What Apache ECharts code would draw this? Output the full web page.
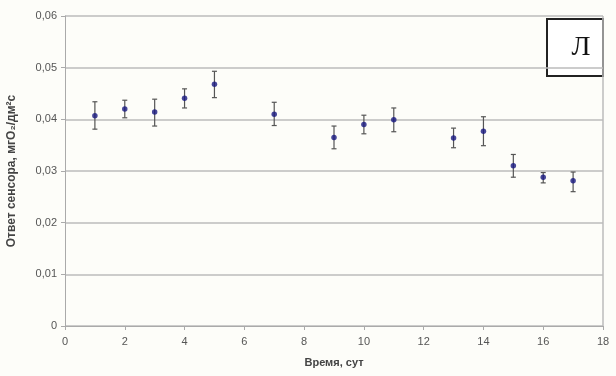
<!DOCTYPE html>
<html>
<head>
<meta charset="utf-8">
<script src="https://cdn.jsdelivr.net/npm/echarts@6/dist/echarts.min.js"></script>
<style>
  html, body { margin: 0; padding: 0; background: #fdfdf9; }
  #chart { width: 616px; height: 376px; }
</style>
</head>
<body>
<div id="chart"></div>
<script>
// время, сут
const days = [1, 2, 3, 4, 5, 7, 9, 10, 11, 13, 14, 15, 16, 17]
// ответ сенсора
const response = [0.0407, 0.0420, 0.0414, 0.0441, 0.0468, 0.0410, 0.0365, 0.0390, 0.0399, 0.0364, 0.0377, 0.0310, 0.0288, 0.0281]
const errLow = [0.0381, 0.0403, 0.0387, 0.0422, 0.0442, 0.0388, 0.0343, 0.0372, 0.0376, 0.0345, 0.0349, 0.0288, 0.0277, 0.0260]
const errHigh = [0.0434, 0.0437, 0.0439, 0.0459, 0.0493, 0.0433, 0.0387, 0.0408, 0.0422, 0.0383, 0.0405, 0.0332, 0.0297, 0.0298]

const fmt = v => String(+v.toFixed(2)).replace('.', ',')

const chart = echarts.init(document.getElementById('chart'))

chart.setOption({
    backgroundColor: '#fdfdf9',
    animation: false,
    grid: { left: 65, right: 13, top: 16, bottom: 50, containLabel: false, outerBoundsMode: 'none' },
    xAxis: {
        type: 'value',
        min: 0,
        max: 18,
        interval: 2,
        name: 'Время, сут',
        nameLocation: 'middle',
        nameGap: 31,
        nameTextStyle: { fontFamily: 'Liberation Sans', fontSize: 11, fontWeight: 'bold', color: '#444' },
        axisLine: { show: true, lineStyle: { color: '#aaa' } },
        axisTick: { show: true, length: 4, lineStyle: { color: '#aaa' } },
        axisLabel: { fontFamily: 'Liberation Sans', fontSize: 11, color: '#555', margin: 10 },
        splitLine: { show: false }
    },
    yAxis: {
        type: 'value',
        min: 0,
        max: 0.06,
        interval: 0.01,
        name: 'Ответ сенсора, мгО₂/дм²с',
        nameLocation: 'middle',
        nameGap: 47,
        nameTextStyle: { fontFamily: 'Liberation Sans', fontSize: 12, fontWeight: 'bold', color: '#444' },
        axisLine: { show: true, lineStyle: { color: '#aaa' } },
        axisTick: { show: true, length: 4, lineStyle: { color: '#aaa' } },
        axisLabel: { fontFamily: 'Liberation Sans', fontSize: 11, color: '#555', margin: 8, formatter: fmt },
        splitLine: { show: true, lineStyle: { color: '#bbb', width: 1.5 } }
    },
    graphic: [
        // правая граница области графика
        { type: 'line', shape: { x1: 603, y1: 16, x2: 603, y2: 326 }, style: { stroke: '#bbb', lineWidth: 1.5 }, z: 1 },
        // метка "Л"
        {
            type: 'group',
            left: 546,
            top: 18,
            z: 100,
            children: [
                { type: 'rect', shape: { x: 0, y: 0, width: 56, height: 57 }, style: { fill: '#fff', stroke: '#222', lineWidth: 2 } },
                { type: 'text', x: 34, y: 29, style: { text: 'Л', fontFamily: 'Liberation Serif', fontSize: 28, fill: '#111', align: 'center', verticalAlign: 'middle' } }
            ]
        }
    ],
    series: [
        {
            type: 'custom',
            data: days.map((d, i) => [d, errLow[i], errHigh[i]]),
            renderItem: (params, api) => {
                const lo = api.coord([api.value(0), api.value(1)])
                const hi = api.coord([api.value(0), api.value(2)])
                const cap = 2.5
                const style = { stroke: '#555', lineWidth: 1.2 }
                return {
                    type: 'group',
                    children: [
                        { type: 'line', shape: { x1: lo[0], y1: lo[1], x2: hi[0], y2: hi[1] }, style },
                        { type: 'line', shape: { x1: lo[0] - cap, y1: lo[1], x2: lo[0] + cap, y2: lo[1] }, style },
                        { type: 'line', shape: { x1: hi[0] - cap, y1: hi[1], x2: hi[0] + cap, y2: hi[1] }, style }
                    ]
                }
            },
            z: 2
        },
        {
            type: 'scatter',
            data: days.map((d, i) => [d, response[i]]),
            symbol: 'circle',
            symbolSize: 5.5,
            itemStyle: { color: '#161680' },
            z: 3
        }
    ]
})
</script>
</body>
</html>
